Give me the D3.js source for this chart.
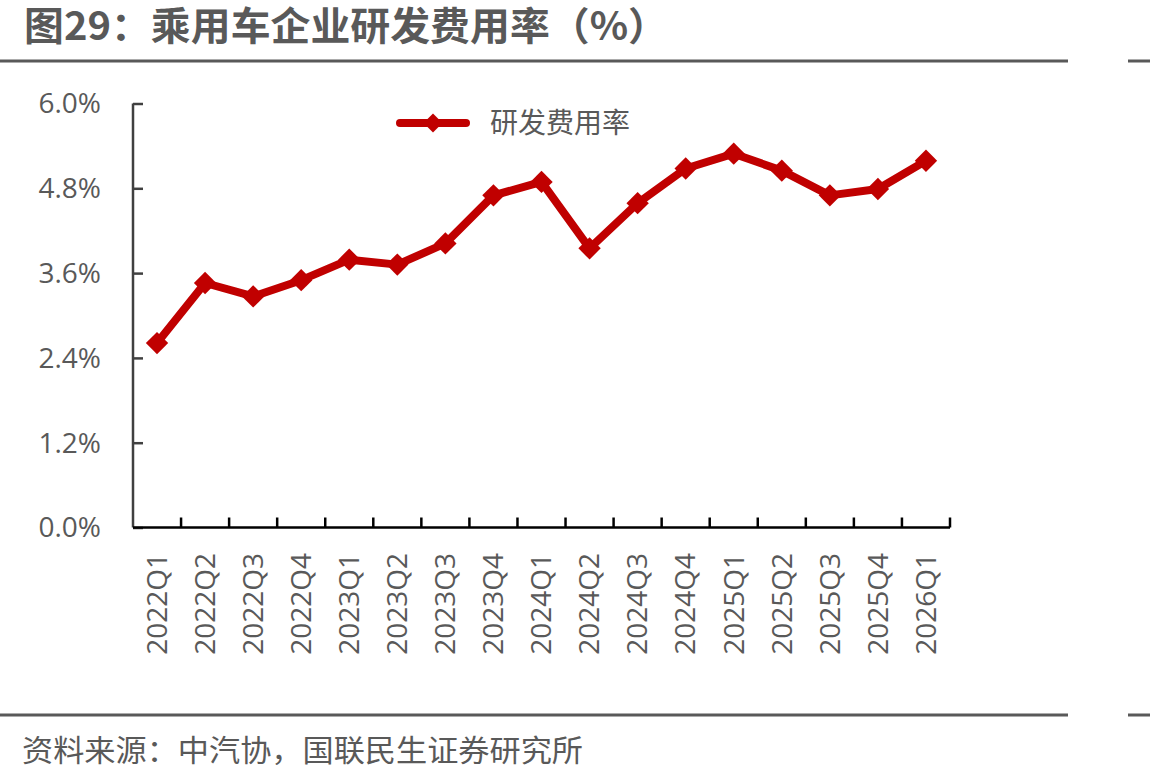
<!DOCTYPE html>
<html><head><meta charset="utf-8">
<script src="https://cdn.jsdelivr.net/npm/d3@7"></script>
<style>body{margin:0;background:#fff}svg{display:block}</style>
</head><body>
<script>
const categories = ["2022Q1","2022Q2","2022Q3","2022Q4","2023Q1","2023Q2","2023Q3","2023Q4","2024Q1","2024Q2","2024Q3","2024Q4","2025Q1","2025Q2","2025Q3","2025Q4","2026Q1"];
const rdRate = [2.61,3.46,3.27,3.50,3.79,3.72,4.02,4.70,4.89,3.95,4.59,5.08,5.29,5.05,4.70,4.79,5.19];
const yTicks = [0,1.2,2.4,3.6,4.8,6.0];
const seriesName = "研发费用率";
const title = "图29：乘用车企业研发费用率（%）";
const source = "资料来源：中汽协，国联民生证券研究所";

const W=1150,H=782;
const FONT = "'Open Sans','Noto Sans CJK SC',sans-serif";
const CJK = "'Noto Sans CJK SC','Open Sans',sans-serif";
const svg=d3.select("body").append("svg").attr("width",W).attr("height",H);
const red="#C00000", gray="#595959";

// title
svg.append("text").attr("x",24).attr("y",40).attr("font-family",CJK).attr("font-weight","bold")
  .attr("font-size",39).attr("fill",gray).attr("textLength",644).attr("lengthAdjust","spacingAndGlyphs").text(title);
// separators
[61,715].forEach(yy=>{
  svg.append("line").attr("x1",0).attr("x2",1068).attr("y1",yy).attr("y2",yy).attr("stroke",gray).attr("stroke-width",3);
  svg.append("line").attr("x1",1128).attr("x2",1150).attr("y1",yy).attr("y2",yy).attr("stroke",gray).attr("stroke-width",3);
});
// source
svg.append("text").attr("x",22).attr("y",761).attr("font-family",CJK).attr("font-size",30)
  .attr("fill",gray).attr("textLength",561).attr("lengthAdjust","spacingAndGlyphs").text(source);

const x=d3.scaleBand().domain(categories).range([133,950]);
const y=d3.scaleLinear().domain([0,6]).range([527.5,103.5]);

// y axis
const gy=svg.append("g").attr("transform","translate(133,0)")
  .call(d3.axisRight(y).tickValues(yTicks).tickSize(10).tickFormat(()=>""));
gy.select(".domain").attr("stroke","#404040").attr("stroke-width",2.5).attr("d","M0,103.5V527.5");
gy.selectAll(".tick line").attr("stroke","#404040").attr("stroke-width",2.5);
svg.append("g").selectAll("text").data(yTicks).join("text")
  .attr("x",101).attr("y",d=>y(d)).attr("dy","0.35em").attr("text-anchor","end")
  .attr("font-family",FONT).attr("font-size",28).attr("fill",gray).text(d=>d.toFixed(1)+"%");

// x axis
const gx=svg.append("g").attr("transform","translate(0,527.5)");
gx.append("line").attr("x1",133).attr("x2",950).attr("stroke","#000").attr("stroke-width",2.5);
gx.selectAll("line.t").data(categories).join("line").attr("class","t")
  .attr("x1",d=>x(d)+x.bandwidth()).attr("x2",d=>x(d)+x.bandwidth()).attr("y1",0).attr("y2",-10)
  .attr("stroke","#000").attr("stroke-width",2.5);
gx.selectAll("text").data(categories).join("text")
  .attr("transform",d=>`translate(${x(d)+x.bandwidth()/2},25.5) rotate(-90)`)
  .attr("dy","0.35em").attr("text-anchor","end").attr("font-family",FONT).attr("font-size",28)
  .attr("fill",gray).text(d=>d);

// line
const pts=categories.map((c,i)=>[x(c)+x.bandwidth()/2,y(rdRate[i])]);
svg.append("path").attr("d",d3.line()(pts)).attr("fill","none").attr("stroke",red)
  .attr("stroke-width",8).attr("stroke-linejoin","round");
const sym=d3.symbol(d3.symbolSquare,250);
svg.append("g").selectAll("path").data(pts).join("path")
  .attr("d",sym).attr("transform",d=>`translate(${d[0]},${d[1]}) rotate(45)`).attr("fill",red);

// legend
svg.append("line").attr("x1",400).attr("x2",466).attr("y1",123).attr("y2",123).attr("stroke",red)
  .attr("stroke-width",8).attr("stroke-linecap","round");
svg.append("path").attr("d",d3.symbol(d3.symbolSquare,180)).attr("transform","translate(433,123) rotate(45)").attr("fill",red);
svg.append("text").attr("x",490).attr("y",123).attr("dy","0.35em").attr("font-family",CJK)
  .attr("font-size",28).attr("fill",gray).text(seriesName);
</script>
</body></html>
